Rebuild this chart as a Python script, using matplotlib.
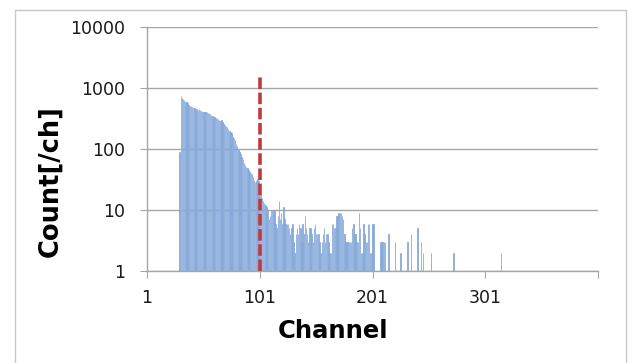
import numpy as np
import matplotlib
matplotlib.use("Agg")
import matplotlib.pyplot as plt
from matplotlib.patches import Rectangle

# channel numbers that have counts (empty channels are left out)
channels = list(range(30, 203)) + [208, 209, 210, 211, 212, 215, 221, 226, 232, 235,
                                   241, 244, 246, 253, 273, 315]

counts = [
    # 30-59
    90, 740, 690, 650, 640, 600, 580, 560, 530, 510,
    500, 480, 490, 470, 460, 450, 440, 450, 430, 420,
    420, 410, 400, 410, 400, 390, 390, 380, 360, 350,
    # 60-89
    340, 330, 320, 320, 310, 300, 290, 300, 280, 260,
    250, 240, 230, 210, 200, 190, 180, 160, 150, 140,
    120, 110, 100, 90, 82, 74, 68, 60, 55, 50,
    # 90-119
    48, 46, 42, 40, 39, 35, 31, 29, 30, 32,
    30, 20, 18, 16, 14, 13, 12, 11, 10, 7,
    8, 10, 10, 10, 10, 6, 5, 8, 14, 7,
    # 120-149
    9, 6, 11, 7, 6, 6, 6, 5, 4, 5,
    6, 3, 2, 4, 5, 4, 6, 5, 3, 6,
    4, 8, 5, 4, 3, 5, 5, 4, 3, 5,
    # 150-179
    6, 4, 4, 4, 3, 2, 3, 4, 5, 3,
    4, 4, 3, 2, 2, 6, 6, 5, 5, 8,
    8, 9, 9, 9, 8, 7, 4, 3, 3, 3,
    # 180-202
    3, 3, 3, 5, 6, 4, 4, 3, 3, 9,
    5, 2, 2, 6, 4, 3, 3, 6, 6, 2,
    2, 6, 6,
    # sparse tail
    3, 3, 3, 3, 3, 4, 3, 2, 3, 4,
    5, 3, 2, 2, 2, 2,
]

marker_channel = 101
marker_top = 1700

y_ticks = [1, 10, 100, 1000, 10000]
y_labels = ["1", "10", "100", "1000", "10000"]
x_ticks = [1, 101, 201, 301, 401]
x_labels = ["1", "101", "201", "301", ""]

fig = plt.figure(figsize=(6.3, 3.63), dpi=100)
ax = fig.add_axes([147 / 630, 1 - 271 / 363, (598 - 147) / 630, (271 - 27) / 363])

ax.bar(channels, counts, width=0.4, color="#a3bfe4", edgecolor="#86a9da", linewidth=0.6, zorder=2)
ax.plot([marker_channel, marker_channel], [1, marker_top], color="#c0393b",
        linewidth=2.6, linestyle=(0, (3.2, 1.0)), zorder=3)

ax.set_yscale("log")
ax.set_ylim(1, 10000)
ax.set_xlim(1, 401)
ax.set_yticks(y_ticks)
ax.set_yticklabels(y_labels)
ax.yaxis.set_minor_locator(matplotlib.ticker.NullLocator())
ax.set_xticks(x_ticks)
ax.set_xticklabels(x_labels)

ax.grid(axis="y", color="#a6a6a6", linewidth=1.0, zorder=0)
for s in ["top", "right"]:
    ax.spines[s].set_visible(False)
for s in ["left", "bottom"]:
    ax.spines[s].set_color("#a6a6a6")
    ax.spines[s].set_linewidth(1.0)
ax.tick_params(axis="y", length=5, color="#a6a6a6", pad=11, labelsize=12.5, labelcolor="#1a1a1a")
ax.tick_params(axis="x", length=5, color="#a6a6a6", pad=8, labelsize=12.5, labelcolor="#1a1a1a")

fig.text(50 / 630, 1 - 181 / 363, "Count[/ch]", rotation=90, ha="center", va="center",
         fontsize=18.5, fontweight="bold")
fig.text(333 / 630, 1 - 331 / 363, "Channel", ha="center", va="center",
         fontsize=17.5, fontweight="bold")

fig.patches.append(Rectangle((15 / 630, -0.05), (626 - 15) / 630, 1.05 - 10 / 363,
                             transform=fig.transFigure, fill=False,
                             edgecolor="#c8c8c8", linewidth=1.0))

fig.savefig("out.png", dpi=100)
